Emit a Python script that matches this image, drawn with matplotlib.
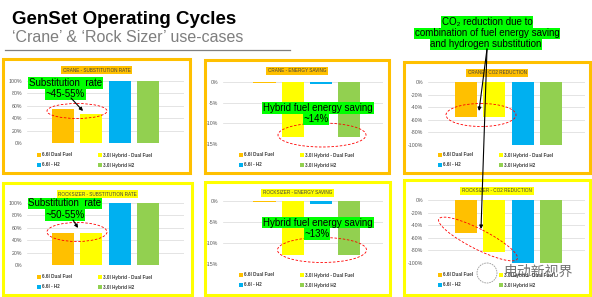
import numpy as np
import matplotlib.pyplot as plt
from matplotlib.patches import Rectangle, Ellipse, Circle

plt.rcParams['font.family'] = ['Liberation Sans', 'DejaVu Sans']

# series / data
series = ['6.6l Dual Fuel', '3.0l Hybrid - Dual Fuel', '6.6l - H2', '3.0l Hybrid H2']
colors = ['#FFC000', '#FFFF00', '#00B0F0', '#92D050']

crane_subst = [55, 46, 100, 100]
crane_energy = [-0.3, -13.4, -0.6, -13.4]
crane_co2 = [-56, -55, -100, -100]
rock_subst = [52, 52, 100, 100]
rock_energy = [-0.3, -12.8, -0.6, -12.8]
rock_co2 = [-52, -83, -100, -100]

subst_ticks = [0, 20, 40, 60, 80, 100]
energy_ticks = [0, -5, -10, -15]
co2_ticks = [0, -20, -40, -60, -80, -100]

W, H = 592, 297
fig = plt.figure(figsize=(W / 100, H / 100), dpi=100)


def px(x0, y0, x1, y1):
    return [x0 / W, 1 - y1 / H, (x1 - x0) / W, (y1 - y0) / H]


# overlay axes in pixel units (y down) for boxes, notes, arrows
ov = fig.add_axes([0, 0, 1, 1], zorder=10)
ov.set_xlim(0, W)
ov.set_ylim(H, 0)
ov.axis('off')

# slide header
ov.text(12, 20, 'GenSet Operating Cycles', fontsize=13.5, fontweight='bold',
        va='center', ha='left', color='black')
ov.text(12, 37, '\u2018Crane\u2019 & \u2018Rock Sizer\u2019 use-cases', fontsize=11.5,
        va='center', ha='left', color='#7F7F7F')
ov.plot([5, 290], [50, 50], color='#7F7F7F', lw=0.9)


def bar_panel(vals, box, ax_rect, c0, ylim, ticks, title, frame_col, leg_y):
    bx0, by0, bx1, by1 = box
    ov.add_patch(Rectangle((bx0, by0), bx1 - bx0, by1 - by0, fill=False,
                           edgecolor=frame_col, lw=2.2))
    L, T, R, B = ax_rect
    ax = fig.add_axes(px(L, T, R, B))
    s = 28.3
    x = np.arange(len(vals))
    ax.bar(x, vals, width=0.78, color=colors, zorder=3)
    ax.set_xlim((L - c0) / s, (R - c0) / s)
    ax.set_ylim(*ylim)
    ax.set_yticks(ticks)
    ax.set_yticklabels([f'{t}%' for t in ticks], fontsize=3.8, color='#595959')
    ax.tick_params(length=0, pad=3.5)
    ax.set_xticks([])
    for sp in ax.spines.values():
        sp.set_visible(False)
    ax.grid(axis='y', color='#D9D9D9', lw=0.5, zorder=0)
    ax.patch.set_alpha(0)
    ax.set_clip_on(False)
    # small chart title with highlight
    ov.text((bx0 + bx1) / 2, by0 + 11, title, fontsize=3.3, color='#404040',
            ha='center', va='center',
            bbox=dict(boxstyle='square,pad=0.35', fc=frame_col, ec='none'))
    # legend, two columns
    cols = [bx0 + 34, bx0 + 95]
    for i, name in enumerate(series):
        lx = cols[i % 2]
        ly = leg_y + 10 * (i // 2)
        ov.add_patch(Rectangle((lx, ly - 2), 3.5, 3.5, fc=colors[i], ec='none'))
        ov.text(lx + 5, ly, name, fontsize=3.3, fontweight='bold',
                color='#404040', va='center', ha='left')
    return ax


bar_panel(crane_subst, (3, 59, 190, 173), (27, 81, 184, 143), 63, (0, 100),
          subst_ticks, 'CRANE - SUBSTITUTION RATE', '#FFC000', 155)
bar_panel(crane_energy, (205, 60, 389, 173), (223, 82, 383, 144), 264.5, (-15, 0),
          energy_ticks, 'CRANE - ENERGY SAVING', '#FFC000', 155)
bar_panel(crane_co2, (404, 62, 590, 173), (428, 82, 585, 145), 466, (-100, 0),
          co2_ticks, 'CRANE - CO2 REDUCTION', '#FFC000', 155)
bar_panel(rock_subst, (3, 183, 192, 295), (27, 203, 184, 265), 63, (0, 100),
          subst_ticks, 'ROCKSIZER - SUBSTITUTION RATE', '#FFFF00', 277)
bar_panel(rock_energy, (205, 182, 390, 295), (223, 201, 383, 264), 264.5, (-15, 0),
          energy_ticks, 'ROCKSIZER - ENERGY SAVING', '#FFFF00', 275)
bar_panel(rock_co2, (404, 180, 590, 295), (428, 200, 585, 263), 466, (-100, 0),
          co2_ticks, 'ROCKSIZER - CO2 REDUCTION', '#FFFF00', 275)


def note(lines, xs, ys):
    for t, x, y in zip(lines, xs, ys):
        ov.text(x, y, t, fontsize=7, color='black', ha='center', va='center',
                bbox=dict(boxstyle='square,pad=0.08', fc='#00FF00', ec='none'))


def ring(cx, cy, w, h, ang=0):
    ov.add_patch(Ellipse((cx, cy), w, h, angle=ang, fill=False, ec='#FF0000',
                         lw=0.6, ls=(0, (3, 2))))


def arrow(x0, y0, x1, y1):
    ov.annotate('', xy=(x1, y1), xytext=(x0, y0),
                arrowprops=dict(arrowstyle='-|>', color='black', lw=0.8,
                                mutation_scale=5, shrinkA=0, shrinkB=0))


note(['Substitution  rate', '~45-55%'], [65.5, 65.5], [83, 94])
ring(77, 111, 60, 15)
arrow(71, 98, 83, 111)

note(['Substitution  rate', '~50-55%'], [65, 65], [203.5, 215])
ring(77, 232, 60, 19)
arrow(73, 220, 78, 228)

note(['Hybrid fuel energy saving', '~14%'], [318, 316], [108, 119.5])
ring(322, 135, 88, 24)

note(['Hybrid fuel energy saving', '~13%'], [318, 317], [222.5, 234])
ring(322, 250, 89, 25)

note(['CO\u2082 reduction due to', 'combination of fuel energy saving',
      'and hydrogen substitution'], [487, 487, 486], [22, 33.5, 44])
ring(481, 115, 70, 23)
ring(478, 239, 88, 20, 27)
arrow(487, 49, 479, 111)
arrow(487, 49, 481, 229)

# watermark
ov.add_patch(Circle((487, 273), 10, fill=False, ec='#9A9A9A', lw=0.6, ls=(0, (2, 1))))
ov.text(538, 272, '电动新视界', fontsize=10, color='#444444', alpha=0.75,
        ha='center', va='center', family=['Noto Sans CJK SC'])

fig.savefig('out.png', dpi=100)
